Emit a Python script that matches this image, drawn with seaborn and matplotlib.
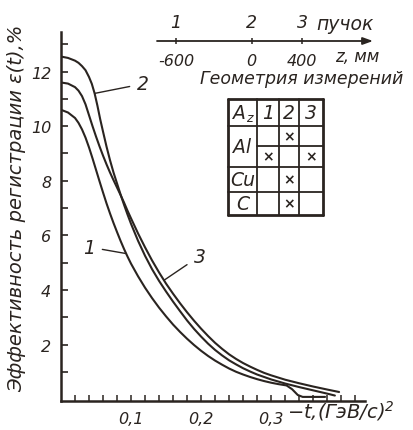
import numpy as np
import pandas as pd
import matplotlib
matplotlib.use("Agg")
import matplotlib.pyplot as plt
import seaborn as sns

# ---------------- data ----------------
t_curve1 = [0.0, 0.01, 0.02, 0.025, 0.03, 0.035, 0.04, 0.045, 0.05, 0.055, 0.06, 0.065,
            0.07, 0.075, 0.08, 0.085, 0.09, 0.095, 0.10, 0.11, 0.12, 0.13, 0.14, 0.15,
            0.16, 0.17, 0.18, 0.19, 0.20, 0.21, 0.22, 0.23, 0.24, 0.25, 0.26, 0.27,
            0.28, 0.29, 0.30, 0.31, 0.322, 0.33, 0.338, 0.345, 0.377]
eff_curve1 = [10.6, 10.5, 10.3, 10.12, 9.88, 9.58, 9.22, 8.82, 8.4, 7.98, 7.57, 7.17,
              6.8, 6.45, 6.12, 5.8, 5.5, 5.22, 4.96, 4.5, 4.08, 3.7, 3.35, 3.03,
              2.73, 2.46, 2.21, 1.98, 1.77, 1.58, 1.41, 1.26, 1.12, 1.0, 0.9, 0.81,
              0.73, 0.66, 0.6, 0.55, 0.5, 0.36, 0.15, 0.08, 0.08]

t_curve2 = [0.0, 0.01, 0.02, 0.025, 0.03, 0.035, 0.04, 0.044, 0.048, 0.052, 0.056, 0.06,
            0.065, 0.07, 0.075, 0.08, 0.085, 0.09, 0.095, 0.10, 0.11, 0.12, 0.13, 0.14,
            0.15, 0.16, 0.17, 0.18, 0.19, 0.20, 0.21, 0.22, 0.23, 0.24, 0.25, 0.26,
            0.27, 0.28, 0.29, 0.30, 0.32, 0.34, 0.36, 0.38, 0.391]
eff_curve2 = [12.55, 12.5, 12.4, 12.32, 12.2, 12.05, 11.8, 11.55, 11.2, 10.75, 10.25, 9.8,
              9.25, 8.75, 8.3, 7.9, 7.5, 7.12, 6.76, 6.42, 5.8, 5.25, 4.76, 4.33,
              3.94, 3.57, 3.22, 2.88, 2.57, 2.29, 2.03, 1.8, 1.6, 1.42, 1.27, 1.13,
              1.01, 0.9, 0.81, 0.72, 0.57, 0.44, 0.32, 0.2, 0.13]

t_curve3 = [0.0, 0.01, 0.02, 0.025, 0.03, 0.035, 0.04, 0.045, 0.05, 0.055, 0.06, 0.065,
            0.07, 0.075, 0.08, 0.085, 0.09, 0.095, 0.10, 0.11, 0.12, 0.13, 0.14, 0.15,
            0.16, 0.17, 0.18, 0.19, 0.20, 0.21, 0.22, 0.23, 0.24, 0.25, 0.26, 0.27,
            0.28, 0.29, 0.30, 0.32, 0.34, 0.36, 0.38, 0.397]
eff_curve3 = [11.6, 11.56, 11.43, 11.3, 11.1, 10.8, 10.4, 10.0, 9.62, 9.26, 8.92, 8.6,
              8.3, 8.02, 7.75, 7.48, 7.2, 6.9, 6.62, 6.07, 5.56, 5.08, 4.64, 4.23,
              3.86, 3.51, 3.18, 2.87, 2.58, 2.31, 2.06, 1.84, 1.64, 1.47, 1.32, 1.19,
              1.07, 0.96, 0.87, 0.71, 0.58, 0.46, 0.35, 0.26]

curve_names = ["1", "2", "3"]

y_major_ticks = [2, 4, 6, 8, 10, 12]
x_major_ticks = [0.1, 0.2, 0.3]
x_major_labels = ["0,1", "0,2", "0,3"]

beam_labels = ["1", "2", "3"]
z_values = [-600, 0, 400]
z_labels = ["-600", "0", "400"]

table_cols = ["1", "2", "3"]
table_targets = ["Al", "Cu", "C"]
target_subrows = [2, 1, 1]
cross_subrow = [0, 1, 1, 2, 3]
cross_col = [2, 1, 3, 2, 2]

# ---------------- style ----------------
INK = "#2a2420"
sns.set_theme(style="white")
plt.rcParams["font.family"] = ["DejaVu Sans"]
plt.rcParams["font.style"] = "italic"
plt.rcParams["text.color"] = INK
plt.rcParams["axes.edgecolor"] = INK
plt.rcParams["xtick.color"] = INK
plt.rcParams["ytick.color"] = INK
plt.rcParams["mathtext.default"] = "it"

W, H = 414, 431
fig = plt.figure(figsize=(W / 100, H / 100), dpi=100)
fig.patch.set_facecolor("white")


def fx(px):
    return px / W


def fy(py):
    return (H - py) / H


# ---------------- main axes ----------------
ax = fig.add_axes([fx(61), fy(402), (365 - 61) / W, (402 - 33) / H])
ax.set_facecolor("none")

frames = []
for name, tt, ee in zip(curve_names, [t_curve1, t_curve2, t_curve3],
                        [eff_curve1, eff_curve2, eff_curve3]):
    frames.append(pd.DataFrame({"t": tt, "eff": ee, "curve": name}))
df = pd.concat(frames, ignore_index=True)

sns.lineplot(data=df, x="t", y="eff", units="curve", estimator=None, sort=False,
             color=INK, lw=1.5, ax=ax, legend=False)
for ln in ax.lines:
    ln.set_solid_joinstyle("round")
    ln.set_solid_capstyle("round")

ax.set_xlim(0, 0.434)
ax.set_ylim(-0.07, 13.45)
for s in ["top", "right"]:
    ax.spines[s].set_visible(False)
for s in ["left", "bottom"]:
    ax.spines[s].set_linewidth(1.8)
    ax.spines[s].set_color(INK)

ax.set_yticks(y_major_ticks)
ax.set_yticklabels([str(v) for v in y_major_ticks])
ax.set_yticks(np.arange(1, 14, 1), minor=True)
ax.set_xticks(x_major_ticks)
ax.set_xticklabels(x_major_labels)
ax.set_xticks(np.arange(0.02, 0.43, 0.02), minor=True)
ax.tick_params(axis="y", which="both", direction="in", length=5, width=1.2,
               labelsize=11.5, pad=7, left=True)
ax.tick_params(axis="x", which="both", direction="in", length=4, width=1.1,
               labelsize=11.5, pad=7, bottom=True)
ax.set_xlabel("")
ax.set_ylabel("")

# curve labels with leader lines
label_specs = [
    ("1", t_curve1, eff_curve1, 0.093, (0.040, 5.57)),
    ("2", t_curve2, eff_curve2, 0.048, (0.117, 11.55)),
    ("3", t_curve3, eff_curve3, 0.147, (0.198, 5.24)),
]
for name, tt, ee, ta, txt in label_specs:
    ya = float(np.interp(ta, tt, ee))
    ax.annotate(name, xy=(ta, ya), xytext=txt, ha="center", va="center",
                fontsize=13.5, color=INK,
                arrowprops=dict(arrowstyle="-", color=INK, lw=1.0,
                                shrinkA=3, shrinkB=0))

fig.text(fx(17), fy(208), "Эффективность регистрации ε(t),%", rotation=90,
         ha="center", va="center", fontsize=14, color=INK)
fig.text(fx(287), fy(411), "−t,(ГэВ/с)$^2$", ha="left", va="center",
         fontsize=14, color=INK)

# ---------------- geometry axis ----------------
axg = fig.add_axes([fx(157), fy(42), (373 - 157) / W, 0.0001])
axg.set_facecolor("none")
axg.set_xlim(-751, 963)
axg.set_ylim(0, 1)
for s in axg.spines.values():
    s.set_visible(False)
axg.annotate("", xy=(963, 0), xytext=(-751, 0), xycoords="data",
             arrowprops=dict(arrowstyle="-|>,head_length=0.5,head_width=0.18",
                             color=INK, lw=1.3, shrinkA=0, shrinkB=0),
             annotation_clip=False)
axg.set_yticks([])
axg.set_xticks(z_values)
axg.set_xticklabels(z_labels)
axg.tick_params(axis="x", direction="inout", length=5, width=1.1,
                labelsize=11.5, pad=6, bottom=True)
axt = axg.twiny()
axt.set_xlim(axg.get_xlim())
for s in axt.spines.values():
    s.set_visible(False)
axt.set_xticks(z_values)
axt.set_xticklabels(beam_labels)
axt.tick_params(axis="x", length=0, labelsize=12.5, pad=7, top=True)

fig.text(fx(345), fy(25), "пучок", ha="center", va="center", fontsize=13.5, color=INK)
fig.text(fx(357), fy(57), "z, мм", ha="center", va="center", fontsize=12, color=INK)
fig.text(fx(302), fy(79), "Геометрия измерений", ha="center", va="center",
         fontsize=12.5, color=INK)

# ---------------- table ----------------
ov = fig.add_axes([0, 0, 1, 1])
ov.set_xlim(0, W)
ov.set_ylim(H, 0)
ov.axis("off")
ov.set_facecolor("none")

col_edges = [228, 257, 279, 299, 323]
row_edges = [100, 127, 147, 168, 193, 216]   # header + 4 sub-rows

for i, x in enumerate(col_edges):
    lw = 2.0 if i in (0, len(col_edges) - 1) else 1.3
    ov.plot([x, x], [row_edges[0], row_edges[-1]], color=INK, lw=lw)
group_bounds = np.cumsum([0] + target_subrows)
for j, y in enumerate(row_edges):
    lw = 2.0 if j in (0, len(row_edges) - 1) else 1.3
    sub = j - 1
    if j == 0 or sub in group_bounds:
        ov.plot([col_edges[0], col_edges[-1]], [y, y], color=INK, lw=lw)
    else:
        ov.plot([col_edges[1], col_edges[-1]], [y, y], color=INK, lw=lw)

ov.text((col_edges[0] + col_edges[1]) / 2 - 3, (row_edges[0] + row_edges[1]) / 2,
        "A", ha="center", va="center", fontsize=13.5, color=INK)
ov.text((col_edges[0] + col_edges[1]) / 2 + 7, (row_edges[0] + row_edges[1]) / 2 + 5,
        "z", ha="center", va="center", fontsize=9, color=INK)
for k, c in enumerate(table_cols):
    ov.text((col_edges[k + 1] + col_edges[k + 2]) / 2, (row_edges[0] + row_edges[1]) / 2,
            c, ha="center", va="center", fontsize=13.5, color=INK)
for g, name in enumerate(table_targets):
    top = row_edges[1 + group_bounds[g]]
    bot = row_edges[1 + group_bounds[g + 1]]
    ov.text((col_edges[0] + col_edges[1]) / 2, (top + bot) / 2, name,
            ha="center", va="center", fontsize=13.5, color=INK)
for r, c in zip(cross_subrow, cross_col):
    cx = (col_edges[c] + col_edges[c + 1]) / 2
    cy = (row_edges[1 + r] + row_edges[2 + r]) / 2
    ov.text(cx, cy, "×", ha="center", va="center", fontsize=10,
            fontweight="bold", color=INK, fontstyle="normal")

fig.savefig("out.png", dpi=100, facecolor="white")
